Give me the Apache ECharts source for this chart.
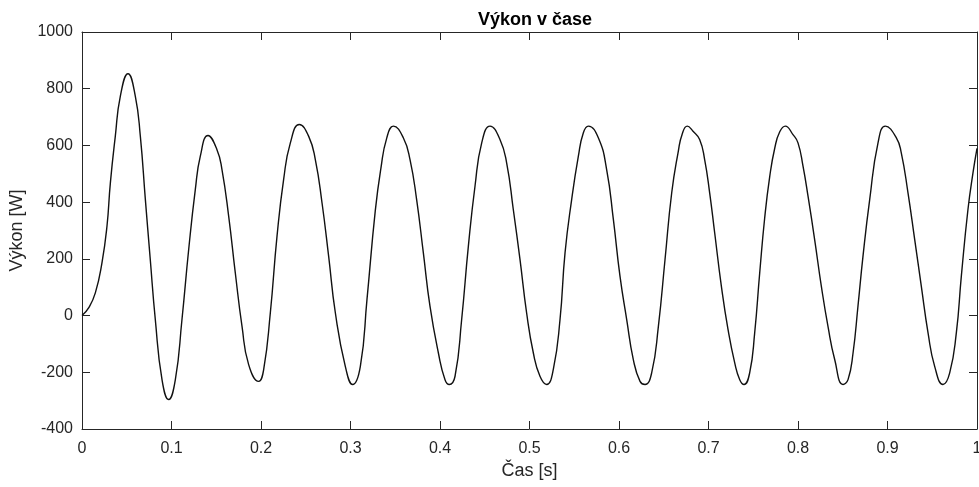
<!DOCTYPE html>
<html>
<head>
<meta charset="utf-8">
<title>Výkon v čase</title>
<script src="https://cdn.jsdelivr.net/npm/echarts@6/dist/echarts.min.js"></script>
<style>
  html, body { margin: 0; padding: 0; background: #fff; }
  #chart { width: 979px; height: 487px; }
</style>
</head>
<body>
<div id="chart"></div>
<script>
// Sampled time instants [s]
const time = [
  0, 0.0074, 0.0149, 0.0223, 0.0279, 0.0317, 0.0372, 0.0428, 0.0514, 0.0596,
  0.0652, 0.0708, 0.0763, 0.0819, 0.0894, 0.0968, 0.1043, 0.1117, 0.1192, 0.1266,
  0.1322, 0.1408, 0.1508, 0.1564, 0.1639, 0.1713, 0.1788, 0.1862, 0.1974, 0.2030,
  0.2104, 0.2179, 0.2253, 0.2328, 0.2428, 0.2533, 0.2607, 0.2682, 0.2756, 0.2831,
  0.2942, 0.3024, 0.3110, 0.3184, 0.3277, 0.3340, 0.3404, 0.3479, 0.3590, 0.3665,
  0.3739, 0.3814, 0.3888, 0.3982, 0.4056, 0.4104, 0.4168, 0.4242, 0.4317, 0.4391,
  0.4466, 0.4559, 0.4670, 0.4745, 0.4819, 0.4894, 0.4968, 0.5043, 0.5117, 0.5192,
  0.5266, 0.5341, 0.5397, 0.5471, 0.5546, 0.5601, 0.5657, 0.5769, 0.5862, 0.5937,
  0.6011, 0.6086, 0.6160, 0.6235, 0.6291, 0.6365, 0.6440, 0.6514, 0.6589, 0.6663,
  0.6704, 0.6763, 0.6827, 0.6901, 0.6957, 0.7013, 0.7069, 0.7144, 0.7218, 0.7293,
  0.7349, 0.7397, 0.7460, 0.7516, 0.7572, 0.7628, 0.7684, 0.7740, 0.7796, 0.7858,
  0.7944, 0.8000, 0.8056, 0.8112, 0.8186, 0.8261, 0.8335, 0.8410, 0.8503, 0.8559,
  0.8615, 0.8670, 0.8726, 0.8801, 0.8894, 0.8976, 0.9099, 0.9154, 0.9229, 0.9304,
  0.9378, 0.9453, 0.9527, 0.9620, 0.9695, 0.9769, 0.9825, 0.9899, 0.9955, 1.0
];

// Power [W] at each time instant
const power = [
  0, 27, 80, 186, 315, 468, 632, 773, 853, 773,
  632, 409, 197, -14, -226, -296, -226, -14, 233, 444,
  562, 635, 585, 515, 350, 150, -38, -173, -232, -190,
  9, 280, 480, 609, 674, 632, 550, 397, 209, 9,
  -179, -243, -179, 56, 370, 520, 625, 668, 627, 550,
  409, 221, 33, -132, -226, -243, -214, -14, 245, 456,
  609, 668, 621, 538, 374, 197, 9, -132, -214, -243,
  -190, -14, 221, 409, 562, 644, 668, 627, 515, 339,
  139, -14, -155, -232, -243, -202, -38, 197, 433, 580,
  638, 668, 650, 621, 550, 433, 292, 103, -49, -167,
  -226, -243, -202, -61, 150, 345, 490, 590, 648, 668,
  638, 609, 527, 421, 268, 103, -38, -155, -243, -226,
  -132, 33, 209, 409, 609, 668, 627, 574, 433, 268,
  103, -61, -179, -243, -202, -61, 139, 374, 503, 590
];

const titleText = 'Výkon v čase';
const xName = 'Čas [s]';
const yName = 'Výkon [W]';

const axisColor = '#262626';
const fontFamily = '"Liberation Sans", Arial, Helvetica, sans-serif';

const chart = echarts.init(document.getElementById('chart'), null, { renderer: 'canvas' });

const tickStyle = { inside: true, length: 8, lineStyle: { color: axisColor, width: 1 } };
const lineStyle = { color: axisColor, width: 1 };

chart.setOption({
  backgroundColor: '#ffffff',
  animation: false,
  title: {
    text: titleText,
    left: 530,
    top: 6,
    textAlign: 'center',
    textStyle: { fontFamily, fontSize: 18, fontWeight: 'bold', color: '#000' }
  },
  grid: { left: 82, right: 2, top: 32, bottom: 58, containLabel: false, outerBoundsMode: 'none' },
  xAxis: [
    {
      type: 'value', min: 0, max: 1, interval: 0.1,
      name: xName, nameLocation: 'middle', nameGap: 30,
      nameTextStyle: { fontFamily, fontSize: 18, color: axisColor },
      axisLine: { show: true, onZero: false, lineStyle },
      axisTick: tickStyle,
      axisLabel: { fontFamily, fontSize: 16, color: axisColor, margin: 12, formatter: v => String(v) },
      splitLine: { show: false }
    },
    {
      type: 'value', min: 0, max: 1, interval: 0.1, position: 'top',
      axisLine: { show: true, onZero: false, lineStyle },
      axisTick: tickStyle,
      axisLabel: { show: false },
      splitLine: { show: false }
    }
  ],
  yAxis: [
    {
      type: 'value', min: -400, max: 1000, interval: 200,
      name: yName, nameLocation: 'middle', nameGap: 52,
      nameTextStyle: { fontFamily, fontSize: 18, color: axisColor },
      axisLine: { show: true, onZero: false, lineStyle },
      axisTick: tickStyle,
      axisLabel: { fontFamily, fontSize: 16, color: axisColor, margin: 9, formatter: v => String(v) },
      splitLine: { show: false }
    },
    {
      type: 'value', min: -400, max: 1000, interval: 200, position: 'right',
      axisLine: { show: true, onZero: false, lineStyle },
      axisTick: tickStyle,
      axisLabel: { show: false },
      splitLine: { show: false }
    }
  ],
  series: [
    {
      type: 'line',
      xAxisIndex: 0,
      yAxisIndex: 0,
      data: time.map((t, i) => [t, power[i]]),
      showSymbol: false,
      smooth: 0.5,
      lineStyle: { color: '#111', width: 1.4 },
      clip: true
    }
  ]
});
</script>
</body>
</html>
